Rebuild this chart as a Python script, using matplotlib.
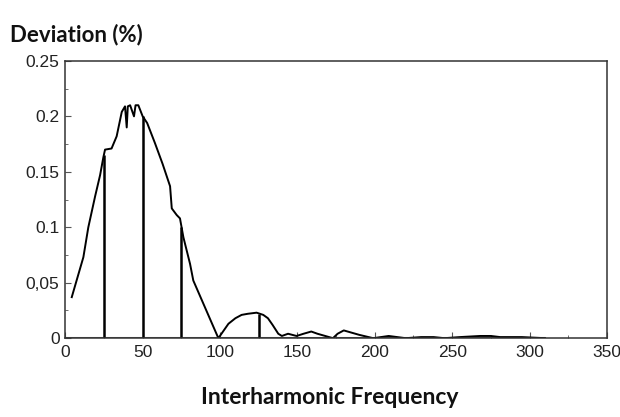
import numpy as np
import matplotlib.pyplot as plt
from matplotlib.ticker import MultipleLocator

plt.rcParams['font.family'] = ['Liberation Sans', 'DejaVu Sans']

# deviation curve
freq = [4.3, 11.8, 15, 19.4, 22.6, 24.7, 25.8, 30, 33.3, 36.6, 38.7, 39.8, 40.5,
        42, 44.5, 45.5, 47.3, 50.1, 53, 58, 63, 67.8, 68.9, 72.1, 74.2, 76.4, 80.7,
        82.8, 99, 102, 105.5, 110, 114, 118, 123.7, 128, 131, 134, 137.7, 140, 144,
        149.5, 154, 159, 163, 168, 173, 176, 180, 185, 190, 199, 209, 220, 230,
        238, 245, 255, 268, 275, 281, 295, 310]
dev = [0.037, 0.073, 0.100, 0.128, 0.147, 0.163, 0.170, 0.171, 0.182, 0.204, 0.209,
       0.190, 0.209, 0.210, 0.200, 0.210, 0.210, 0.200, 0.194, 0.176, 0.157, 0.137,
       0.117, 0.111, 0.108, 0.091, 0.067, 0.052, 0.000, 0.006, 0.013, 0.018, 0.021,
       0.022, 0.023, 0.021, 0.018, 0.012, 0.004, 0.002, 0.004, 0.002, 0.004, 0.006,
       0.004, 0.002, 0.000, 0.004, 0.007, 0.005, 0.003, 0.000, 0.002, 0.000, 0.001,
       0.001, 0.000, 0.001, 0.002, 0.002, 0.001, 0.001, 0.000]

# vertical lines at the harmonics
harm_f = [25, 50, 75, 125]
harm_v = [0.165, 0.200, 0.100, 0.022]

yticks = [0, 0.05, 0.1, 0.15, 0.2, 0.25]
ylabels = ['0', '0,05', '0.1', '0.15', '0.2', '0.25']
xticks = [0, 50, 100, 150, 200, 250, 300, 350]

fig = plt.figure(figsize=(6.2, 4.17), dpi=100)
ax = fig.add_axes([0.105, 0.189, 0.874, 0.665])

ax.plot([0, 310], [0, 0], color='#555555', lw=2.2, solid_capstyle='butt')
ax.plot(freq, dev, color='black', lw=1.4)
ax.vlines(harm_f, 0, harm_v, color='black', lw=1.8)

ax.set_xlim(0, 350)
ax.set_ylim(0, 0.25)
ax.set_xticks(xticks)
ax.set_yticks(yticks)
ax.set_yticklabels(ylabels)
ax.xaxis.set_minor_locator(MultipleLocator(25))
ax.yaxis.set_minor_locator(MultipleLocator(0.025))
ax.tick_params(which='both', direction='in', color='#555555', labelsize=12.5,
               labelcolor='#222222')
ax.tick_params(which='major', length=4)
ax.tick_params(which='minor', length=2.5)
ax.tick_params(axis='x', pad=5)
ax.tick_params(axis='y', pad=4)

for s in ax.spines.values():
    s.set_color('#333333')
    s.set_linewidth(1.1)

fig.text(0.016, 0.9, 'Deviation (%)', fontsize=16, fontweight='bold',
         family='Lato', color='#111111')
fig.text(0.532, 0.03, 'Interharmonic Frequency', fontsize=16.5, fontweight='bold',
         family='Lato', ha='center', color='#111111')

plt.savefig('out.png', dpi=100)
